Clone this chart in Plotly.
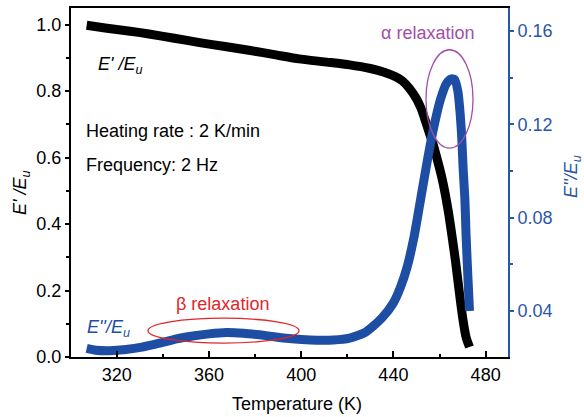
import plotly.graph_objects as go

# ---- data ----
temp_storage = [307, 315, 325, 334, 345, 356, 367, 378, 389, 399, 410, 421, 430, 436,
                441, 444, 447, 450, 452, 454, 455.5, 457, 459, 461, 462.5, 464, 465.5,
                467, 468.5, 470, 471.5, 473]
storage_ratio = [0.998, 0.990, 0.981, 0.972, 0.959, 0.946, 0.934, 0.922, 0.909, 0.897,
                 0.888, 0.879, 0.868, 0.857, 0.843, 0.830, 0.808, 0.777, 0.748, 0.708,
                 0.676, 0.645, 0.595, 0.540, 0.490, 0.430, 0.360, 0.285, 0.200, 0.120,
                 0.060, 0.030]

temp_loss = [307, 311, 317, 324, 331, 338.5, 346, 353, 360, 367.5, 375, 382, 389, 396,
             404, 414, 421, 428, 435, 440, 443, 446, 449, 452, 455, 458, 460.5, 463, 465,
             466.5, 468, 469, 469.6, 470.3, 471.0, 471.5, 472.2, 473.0]
loss_ratio = [0.0240, 0.0232, 0.0230, 0.0235, 0.0245, 0.0262, 0.0281, 0.0293, 0.0302,
              0.0308, 0.0305, 0.0298, 0.0289, 0.0281, 0.0276, 0.0276, 0.0284, 0.0310,
              0.0370, 0.0435, 0.0500, 0.0590, 0.0720, 0.0890, 0.1060, 0.1210, 0.1310,
              0.1375, 0.1395, 0.1393, 0.1340, 0.1240, 0.1150, 0.1000, 0.0880, 0.0730,
              0.0570, 0.0400]

x_ticks = [320, 360, 400, 440, 480]
left_ticks = [0.0, 0.2, 0.4, 0.6, 0.8, 1.0]
right_ticks = [0.04, 0.08, 0.12, 0.16]

BLACK = "#000000"
BLUE = "#1d4ea3"
AXBLUE = "#2a56a8"
PURPLE = "#a34ea8"
RED = "#e0262b"
FONT = "Liberation Sans, Arial, sans-serif"

fig = go.Figure()
fig.add_trace(go.Scatter(
    x=temp_storage, y=storage_ratio, mode="lines",
    line=dict(color=BLACK, width=9, shape="spline", smoothing=0.6),
    yaxis="y", showlegend=False, hoverinfo="skip"))
fig.add_trace(go.Scatter(
    x=temp_loss, y=loss_ratio, mode="lines",
    line=dict(color=BLUE, width=9, shape="spline", smoothing=0.6),
    yaxis="y2", showlegend=False, hoverinfo="skip"))

L, R, T, B = 71, 76, 6, 60
W, H = 584, 417
pw, ph = W - L - R, H - T - B


def px(x):
    return (x - L) / pw


def py(y):
    return (H - B - y) / ph


fig.update_layout(
    width=W, height=H,
    margin=dict(l=L, r=R, t=T, b=B),
    paper_bgcolor="white", plot_bgcolor="white",
    font=dict(family=FONT, size=18, color=BLACK),
    xaxis=dict(range=[300.2, 489.7], tickmode="array", tickvals=x_ticks,
               ticks="inside", ticklen=6, tickwidth=1.5, tickcolor=BLACK,
               showline=True, linecolor=BLACK, linewidth=2, mirror=True,
               showgrid=False, zeroline=False,
               tickfont=dict(size=18, color=BLACK),
               minor=dict(tickvals=[340, 380, 420, 460], ticks="inside",
                          ticklen=3.5, tickwidth=1.5, tickcolor=BLACK)),
    yaxis=dict(range=[0, 1.05], tickmode="array", tickvals=left_ticks,
               tickformat=".1f", ticks="outside", ticklen=4, tickwidth=1.5,
               tickcolor=BLACK, showline=True, linecolor=BLACK, linewidth=2,
               showgrid=False, zeroline=False,
               tickfont=dict(size=18, color=BLACK),
               minor=dict(tickvals=[0.1, 0.3, 0.5, 0.7, 0.9], ticks="outside",
                          ticklen=3, tickwidth=1.5, tickcolor=BLACK)),
    yaxis2=dict(range=[0.0203, 0.1699], overlaying="y", side="right",
                tickmode="array", tickvals=right_ticks, tickformat=".2f",
                ticks="outside", ticklen=4, tickwidth=1.5, tickcolor=AXBLUE,
                showline=True, linecolor=AXBLUE, linewidth=2,
                showgrid=False, zeroline=False,
                tickfont=dict(size=18, color=AXBLUE),
                minor=dict(tickvals=[0.06, 0.10, 0.14], ticks="outside",
                           ticklen=3, tickwidth=1.5, tickcolor=AXBLUE)),
)

shapes = [
    dict(type="circle", xref="paper", yref="paper",
         x0=px(426), x1=px(473), y0=py(147), y1=py(48),
         line=dict(color=PURPLE, width=1.3)),
    dict(type="circle", xref="paper", yref="paper",
         x0=px(148), x1=px(299), y0=py(343), y1=py(318),
         line=dict(color=RED, width=1.3)),
]
fig.update_layout(shapes=shapes)


def ann(text, x, y, color=BLACK, size=18, xanchor="center", angle=0):
    fig.add_annotation(text=text, x=px(x), y=py(y), xref="paper", yref="paper",
                       showarrow=False, xanchor=xanchor, yanchor="middle",
                       textangle=angle, font=dict(family=FONT, size=size, color=color))


ann("α relaxation", 427, 31, color=PURPLE)
ann("β relaxation", 222, 304, color=RED)
ann("<i>E' /E<sub>u</sub></i>", 120, 64)
ann("Heating rate : 2 K/min", 84, 130, xanchor="left")
ann("Frequency: 2 Hz", 84, 164, xanchor="left")
ann("<i>E''/E<sub>u</sub></i>", 108, 328, color=BLUE)
ann("<i>E' /E<sub>u</sub></i>", 22, 192, angle=-90)
ann("<i>E''/E<sub>u</sub></i>", 572, 176, color=AXBLUE, angle=-90)
ann("Temperature (K)", 297, 404)

fig.write_html("out.html")
